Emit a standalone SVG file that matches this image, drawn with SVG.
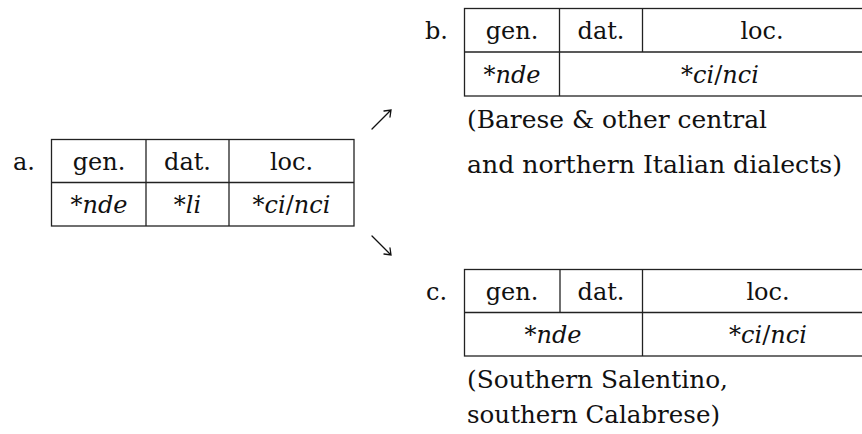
<svg xmlns="http://www.w3.org/2000/svg" width="862" height="434" viewBox="0 0 862 434">
<style>
text{font-family:"DejaVu Serif","Liberation Serif",serif;font-size:24px;fill:#111}
.m{text-anchor:middle}
.i{font-style:italic}
.cap{font-size:25px}
.ln{stroke:#222;stroke-width:1.3;fill:none}
.ar{stroke:#111;stroke-width:1.3;fill:none;stroke-linecap:round}
</style>
<rect width="862" height="434" fill="#fff"/>
<g id="table-a">
<text x="13" y="170">a.</text>
<rect class="ln" x="51.5" y="139.5" width="302.5" height="86.5"/>
<line class="ln" x1="51.5" y1="182.5" x2="354" y2="182.5"/>
<line class="ln" x1="146" y1="139.5" x2="146" y2="226"/>
<line class="ln" x1="229" y1="139.5" x2="229" y2="226"/>
<text class="m" x="99" y="170">gen.</text>
<text class="m" x="187.5" y="170">dat.</text>
<text class="m" x="291.5" y="170">loc.</text>
<text class="m" x="99" y="213">*<tspan class="i">nde</tspan></text>
<text class="m" x="187.5" y="213">*<tspan class="i">li</tspan></text>
<text class="m" x="291.5" y="213">*<tspan class="i">ci</tspan>/<tspan class="i">nci</tspan></text>
</g>
<g id="table-b">
<text x="425" y="39">b.</text>
<rect class="ln" x="464.5" y="8.5" width="420" height="87.5"/>
<line class="ln" x1="464.5" y1="52" x2="870" y2="52"/>
<line class="ln" x1="559.5" y1="8.5" x2="559.5" y2="96"/>
<line class="ln" x1="642.5" y1="8.5" x2="642.5" y2="52"/>
<text class="m" x="512" y="39">gen.</text>
<text class="m" x="601" y="39">dat.</text>
<text class="m" x="762" y="39">loc.</text>
<text class="m" x="512" y="83">*<tspan class="i">nde</tspan></text>
<text class="m" x="720" y="83">*<tspan class="i">ci</tspan>/<tspan class="i">nci</tspan></text>
<text class="cap" x="467" y="128" textLength="300" lengthAdjust="spacingAndGlyphs">(Barese &amp; other central</text>
<text class="cap" x="467" y="173" textLength="375" lengthAdjust="spacingAndGlyphs">and northern Italian dialects)</text>
</g>
<g id="table-c">
<text x="426" y="300">c.</text>
<rect class="ln" x="464.5" y="269.5" width="430" height="86.5"/>
<line class="ln" x1="464.5" y1="312.5" x2="870" y2="312.5"/>
<line class="ln" x1="560" y1="269.5" x2="560" y2="312.5"/>
<line class="ln" x1="642.5" y1="269.5" x2="642.5" y2="356"/>
<text class="m" x="512" y="300">gen.</text>
<text class="m" x="601" y="300">dat.</text>
<text class="m" x="768" y="300">loc.</text>
<text class="m" x="553" y="343">*<tspan class="i">nde</tspan></text>
<text class="m" x="768" y="343">*<tspan class="i">ci</tspan>/<tspan class="i">nci</tspan></text>
<text class="cap" x="467" y="388" textLength="261" lengthAdjust="spacingAndGlyphs">(Southern Salentino,</text>
<text class="cap" x="467" y="423" textLength="253" lengthAdjust="spacingAndGlyphs">southern Calabrese)</text>
</g>
<g id="connectors">
<path class="ar" d="M372 129 L391 110 M384 111 L391 110 L390 117"/>
<path class="ar" d="M372 236 L391 255 M384 254 L391 255 L390 248"/>
</g>
</svg>
